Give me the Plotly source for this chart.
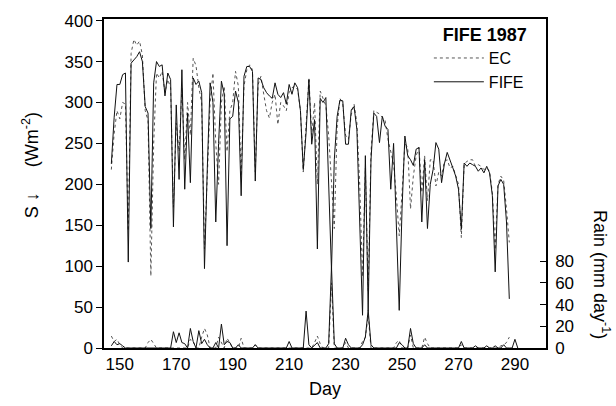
import plotly.graph_objects as go

# Daily incoming shortwave radiation S (W m-2), days 147-288
DAYS = list(range(147, 289))

S_FIFE = [
    225, 282, 322, 322, 334, 336, 105, 348, 352, 356,
    362, 350, 295, 287, 146, 324, 350, 344, 346, 308,
    336, 328, 148, 297, 206, 340, 194, 287, 202, 330,
    322, 326, 312, 97, 220, 324, 300, 154, 250, 326,
    310, 125, 280, 283, 314, 300, 186, 332, 344, 344,
    338, 204, 330, 328, 318, 312, 308, 305, 324, 310,
    306, 312, 298, 322, 310, 324, 318, 290, 218, 263,
    328, 249, 279, 121, 305, 300, 306, 210, 95, 230,
    283, 303, 302, 249, 249, 291, 295, 267, 162, 40,
    235, 46, 230, 287, 283, 251, 283, 271, 267, 194,
    250, 154, 46, 170, 259, 235, 230, 223, 243, 245,
    154, 230, 146, 200, 218, 251, 243, 202, 225, 239,
    228, 220, 210, 194, 145, 226, 222, 226, 224, 222,
    216, 220, 214, 222, 214, 186, 93, 198, 206, 200,
    154, 60,
]

S_EC = [
    218, 262, 290, 280, 300, 298, 143, 360, 377, 370,
    375, 358, 290, 278, 88, 250, 336, 330, 338, 312,
    328, 318, 172, 275, 240, 318, 230, 300, 260, 354,
    345, 318, 300, 121, 210, 300, 336, 250, 200, 300,
    320, 240, 290, 300, 338, 320, 210, 320, 340, 346,
    340, 215, 322, 332, 310, 290, 281, 300, 310, 273,
    300, 296, 290, 312, 318, 320, 316, 290, 215, 280,
    330, 260, 300, 200, 314, 305, 296, 260, 200, 146,
    270, 305, 298, 260, 255, 285, 298, 275, 200, 87,
    220, 70, 240, 290, 288, 286, 282, 278, 255, 240,
    225, 185, 137, 190, 250, 245, 170, 210, 235, 245,
    190, 235, 180, 230, 230, 198, 215, 210, 228, 230,
    220, 222, 212, 200, 135, 225, 228, 230, 230, 222,
    224, 222, 218, 220, 216, 190, 120, 200, 210, 205,
    170, 129,
]

# Daily rainfall (mm day-1), days 147-291
RAIN_DAYS = list(range(147, 292))

RAIN_FIFE = [
    2, 6, 3, 4, 2, 0, 0, 0, 0, 0,
    0, 0, 0, 0, 0, 0, 0, 0, 0, 0,
    0, 0, 15, 5, 14, 5, 4, 0, 18, 6,
    0, 16, 4, 8, 3, 0, 0, 5, 0, 22,
    3, 6, 5, 0, 0, 3, 0, 0, 0, 0,
    0, 3, 0, 0, 0, 0, 0, 0, 0, 0,
    0, 0, 0, 6, 0, 0, 0, 0, 0, 34,
    3, 0, 3, 5, 0, 0, 0, 4, 75, 4,
    0, 0, 0, 9, 3, 0, 0, 0, 0, 3,
    10, 35, 3, 0, 0, 0, 0, 0, 0, 0,
    0, 0, 5, 3, 0, 0, 18, 4, 0, 0,
    0, 3, 0, 0, 0, 0, 0, 0, 0, 0,
    0, 0, 0, 0, 6, 0, 0, 0, 0, 2,
    0, 0, 0, 2, 0, 0, 2, 0, 0, 3,
    0, 0, 0, 8, 0,
]

RAIN_EC = [
    11, 6, 8, 3, 0, 0, 0, 0, 0, 0,
    0, 0, 0, 5, 8, 4, 0, 0, 0, 0,
    0, 0, 0, 0, 0, 0, 0, 0, 8, 6,
    0, 0, 10, 18, 12, 0, 0, 0, 10, 5,
    0, 9, 5, 0, 0, 0, 9, 0, 0, 0,
    0, 3, 0, 0, 0, 0, 0, 0, 0, 0,
    0, 0, 0, 0, 0, 0, 0, 0, 0, 0,
    0, 0, 5, 11, 4, 0, 0, 0, 60, 0,
    0, 0, 0, 5, 0, 0, 0, 0, 0, 6,
    10, 30, 0, 0, 0, 0, 0, 0, 0, 0,
    0, 5, 7, 0, 0, 0, 12, 0, 0, 0,
    0, 10, 4, 0, 0, 0, 0, 0, 0, 0,
    0, 0, 0, 0, 3, 0, 0, 0, 0, 0,
    0, 0, 0, 0, 0, 0, 0, 0, 2, 3,
    5, 10, None, None, None,
]

X_TICKS = [150, 170, 190, 210, 230, 250, 270, 290]
S_TICKS = [0, 50, 100, 150, 200, 250, 300, 350, 400]
RAIN_TICKS = [0, 20, 40, 60, 80]

FONT = "Liberation Sans, Arial, sans-serif"
SOLID = "#111111"
DOTTED = "#555555"

fig = go.Figure()

fig.add_trace(go.Scatter(
    x=DAYS, y=S_EC, name="EC", mode="lines",
    line=dict(color=DOTTED, width=1, dash="dot"),
))
fig.add_trace(go.Scatter(
    x=DAYS, y=S_FIFE, name="FIFE", mode="lines",
    line=dict(color=SOLID, width=1),
))
fig.add_trace(go.Scatter(
    x=RAIN_DAYS, y=RAIN_EC, mode="lines", showlegend=False, yaxis="y2",
    line=dict(color=DOTTED, width=1, dash="dot"),
))
fig.add_trace(go.Scatter(
    x=RAIN_DAYS, y=RAIN_FIFE, mode="lines", showlegend=False, yaxis="y2",
    line=dict(color=SOLID, width=1),
))

NBSP = "\u00a0"

fig.update_layout(
    width=616, height=406,
    margin=dict(l=104, r=70, t=17, b=58),
    paper_bgcolor="white", plot_bgcolor="white",
    font=dict(family=FONT, size=16, color="black"),
    showlegend=True,
    legend=dict(
        x=0.735, y=1.004, xanchor="left", yanchor="top",
        bgcolor="rgba(0,0,0,0)", borderwidth=0,
        font=dict(size=16),
        itemwidth=50,
        tracegroupgap=0,
        title=dict(text="<b>FIFE 1987</b>", font=dict(size=18), side="top right"),
    ),
    xaxis=dict(
        range=[144.4, 301], tickvals=X_TICKS, ticks="",
        showline=True, linecolor="black", linewidth=1.5, mirror=True,
        showgrid=False, zeroline=False,
        tickfont=dict(size=17),
    ),
    yaxis=dict(
        range=[0, 402], tickvals=S_TICKS, ticks="outside", ticklen=6,
        tickcolor="black", showline=True, linecolor="black", linewidth=1.5,
        showgrid=False, zeroline=False, tickfont=dict(size=17),
    ),
    yaxis2=dict(
        range=[0, 303], tickvals=RAIN_TICKS, ticks="inside", ticklen=6,
        tickcolor="black", overlaying="y", side="right",
        showline=True, linecolor="black", linewidth=1.5,
        showgrid=False, zeroline=False, tickfont=dict(size=17),
        ticklabelstandoff=4,
    ),
    annotations=[
        dict(text="Day", xref="paper", yref="paper", x=0.5, y=-0.088,
             xanchor="center", yanchor="top", showarrow=False,
             font=dict(size=18)),
        dict(text="S \u2193" + NBSP * 5 + "(Wm<sup>-2</sup>)",
             xref="paper", yref="paper",
             x=-0.167, y=0.556, xanchor="center", yanchor="middle",
             textangle=-90, showarrow=False, font=dict(size=18)),
        dict(text="Rain (mm day<sup>-1</sup>)", xref="paper", yref="paper",
             x=1.125, y=0.224, xanchor="center", yanchor="middle",
             textangle=90, showarrow=False, font=dict(size=18)),
    ],
)

fig.write_html("out.html")
